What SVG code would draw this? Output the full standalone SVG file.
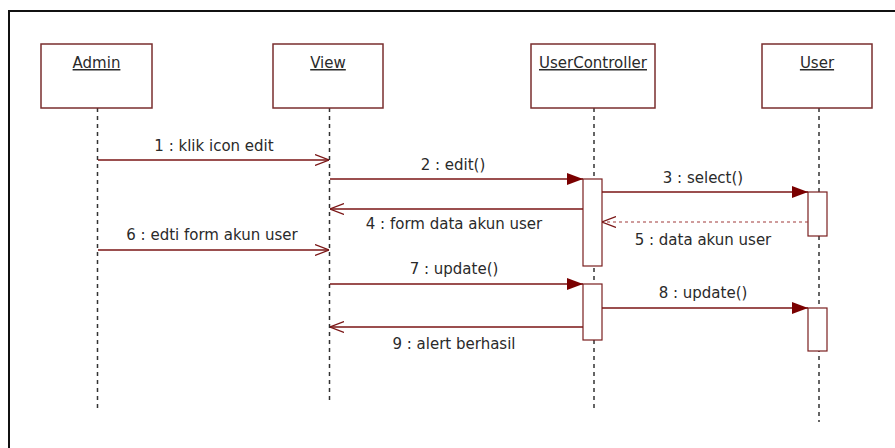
<svg xmlns="http://www.w3.org/2000/svg" width="895" height="448" viewBox="0 0 895 448">
  <style>
    .obj { fill: #ffffff; stroke: #7a2e2e; stroke-width: 1.5; }
    .title { font-family: "DejaVu Sans", sans-serif; font-size: 15px; fill: #2a2a2a; text-anchor: middle; text-decoration: underline; }
    .life { stroke: #333333; stroke-width: 1.5; stroke-dasharray: 4 4; fill: none; }
    .act { fill: #ffffff; stroke: #7a1f1f; stroke-width: 1.2; }
    .msg { stroke: #7a1515; stroke-width: 1.5; fill: none; }
    .ret { stroke: #a03a3a; stroke-width: 1.2; stroke-dasharray: 3 3; fill: none; }
    .lbl { font-family: "DejaVu Sans", sans-serif; font-size: 15px; fill: #2a2a2a; text-anchor: middle; }
  </style>
  <defs>
    <marker id="sync" viewBox="0 0 16 12" refX="16" refY="6" markerWidth="16" markerHeight="12" markerUnits="userSpaceOnUse" orient="auto">
      <path d="M0,0 L16,6 L0,12 Z" fill="#7a0000"/>
    </marker>
    <marker id="open" viewBox="0 0 14 12" refX="14" refY="6" markerWidth="14" markerHeight="12" markerUnits="userSpaceOnUse" orient="auto">
      <path d="M0,0.5 L14,6 L0,11.5" fill="none" stroke="#7a1515" stroke-width="1.2"/>
    </marker>
  </defs>

  <rect width="895" height="448" fill="#ffffff"/>
  <!-- outer frame (top and left edges) -->
  <path d="M9,448 L9,11 L895,11" fill="none" stroke="#111111" stroke-width="2"/>

  <!-- objects with lifelines -->
  <g id="admin">
    <line class="life" x1="97.5" y1="108" x2="97.5" y2="412"/>
    <rect class="obj" x="41" y="44" width="111" height="64"/>
    <text class="title" x="96.5" y="68">Admin</text>
  </g>
  <g id="view">
    <line class="life" x1="329.5" y1="108" x2="329.5" y2="402"/>
    <rect class="obj" x="273" y="44" width="110" height="64"/>
    <text class="title" x="328" y="68">View</text>
  </g>
  <g id="usercontroller">
    <line class="life" x1="594" y1="108" x2="594" y2="410"/>
    <rect class="obj" x="531" y="44" width="124" height="64"/>
    <text class="title" x="593" y="68">UserController</text>
    <rect class="act" x="583" y="179" width="19" height="87"/>
    <rect class="act" x="583" y="284" width="19" height="56"/>
  </g>
  <g id="user">
    <line class="life" x1="819" y1="108" x2="819" y2="422"/>
    <rect class="obj" x="762" y="44" width="110" height="64"/>
    <text class="title" x="817" y="68">User</text>
    <rect class="act" x="808" y="192" width="19" height="44"/>
    <rect class="act" x="808" y="308" width="19" height="43"/>
  </g>

  <!-- messages -->
  <g id="messages">
    <line class="msg" x1="98" y1="160" x2="329" y2="160" marker-end="url(#open)"/>
    <text class="lbl" x="214" y="151">1 : klik icon edit</text>

    <line class="msg" x1="330" y1="179" x2="583" y2="179" marker-end="url(#sync)"/>
    <text class="lbl" x="453" y="170">2 : edit()</text>

    <line class="msg" x1="602" y1="192" x2="808" y2="192" marker-end="url(#sync)"/>
    <text class="lbl" x="703" y="183">3 : select()</text>

    <line class="msg" x1="583" y1="209" x2="330" y2="209" marker-end="url(#open)"/>
    <text class="lbl" x="454" y="229">4 : form data akun user</text>

    <line class="ret" x1="808" y1="222" x2="602" y2="222" marker-end="url(#open)"/>
    <text class="lbl" x="703" y="245">5 : data akun user</text>

    <line class="msg" x1="98" y1="250" x2="329" y2="250" marker-end="url(#open)"/>
    <text class="lbl" x="212" y="240">6 : edti form akun user</text>

    <line class="msg" x1="330" y1="284" x2="583" y2="284" marker-end="url(#sync)"/>
    <text class="lbl" x="454" y="274">7 : update()</text>

    <line class="msg" x1="602" y1="308" x2="808" y2="308" marker-end="url(#sync)"/>
    <text class="lbl" x="703" y="298">8 : update()</text>

    <line class="msg" x1="583" y1="327" x2="330" y2="327" marker-end="url(#open)"/>
    <text class="lbl" x="454" y="349">9 : alert berhasil</text>
  </g>
</svg>
